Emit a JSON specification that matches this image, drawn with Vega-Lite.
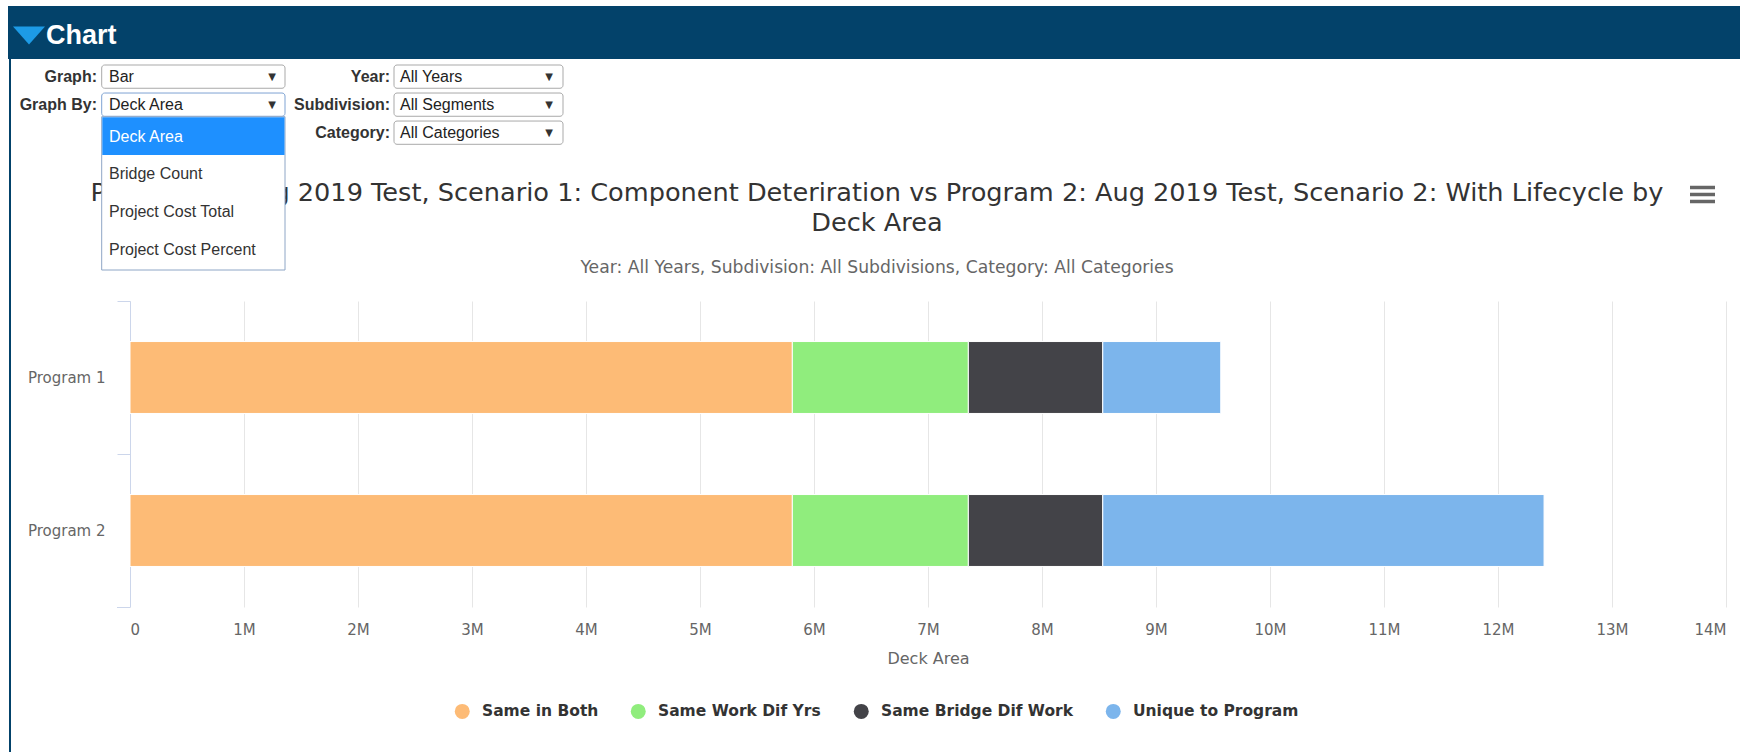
{
  "$schema": "https://vega.github.io/schema/vega-lite/v6.json",
  "background": "#ffffff",
  "padding": {"top": 6, "left": 0, "right": 0, "bottom": 0},
  "columns": 1,
  "spacing": 0,
  "bounds": "flush",
  "concat": [
    {
      "width": 1610,
      "height": 53,
      "data": {"values": [{"section": "Chart"}]},
      "layer": [
        {
          "mark": {"type": "rect", "fill": "#03426a"},
          "encoding": {
            "x": {"datum": 8, "type": "quantitative", "scale": {"domain": [0, 1740], "range": [-130, 1610], "nice": false, "zero": false}, "axis": null},
            "x2": {"datum": 1740},
            "y": {"datum": 0, "type": "quantitative", "scale": {"domain": [0, 53], "range": [0, 53], "nice": false, "zero": false}, "axis": null},
            "y2": {"datum": 53}
          }
        },
        {
          "mark": {"type": "rule", "stroke": "#03426a", "strokeWidth": 2},
          "encoding": {
            "x": {"datum": 10, "type": "quantitative", "scale": {"domain": [0, 1740], "range": [-130, 1610], "nice": false, "zero": false}, "axis": null},
            "y": {"datum": 53, "type": "quantitative", "scale": {"domain": [0, 53], "range": [0, 53], "nice": false, "zero": false}, "axis": null},
            "y2": {"datum": 746}
          }
        },
        {
          "mark": {"type": "rule", "stroke": "#ccd6eb", "strokeWidth": 1},
          "encoding": {
            "x": {"datum": 117, "type": "quantitative", "scale": {"domain": [0, 1740], "range": [-130, 1610], "nice": false, "zero": false}, "axis": null},
            "x2": {"datum": 130},
            "y": {"datum": 601.5, "type": "quantitative", "scale": {"domain": [0, 53], "range": [0, 53], "nice": false, "zero": false}, "axis": null}
          }
        },
        {
          "mark": {"type": "point", "shape": "M-1,-0.57L1,-0.57L0,0.57Z", "size": 1024, "filled": true, "color": "#1d9be6", "opacity": 1, "strokeWidth": 0},
          "encoding": {
            "x": {"datum": 29, "type": "quantitative", "scale": {"domain": [0, 1740], "range": [-130, 1610], "nice": false, "zero": false}, "axis": null},
            "y": {"datum": 29.5, "type": "quantitative", "scale": {"domain": [0, 53], "range": [0, 53], "nice": false, "zero": false}, "axis": null}
          }
        },
        {
          "mark": {"type": "text", "font": "Liberation Sans", "fontSize": 27, "fontWeight": "bold", "color": "#ffffff", "align": "left", "baseline": "alphabetic"},
          "encoding": {
            "text": {"field": "section"},
            "x": {"datum": 46, "type": "quantitative", "scale": {"domain": [0, 1740], "range": [-130, 1610], "nice": false, "zero": false}, "axis": null},
            "y": {"datum": 38, "type": "quantitative", "scale": {"domain": [0, 53], "range": [0, 53], "nice": false, "zero": false}, "axis": null}
          }
        }
      ]
    },
    {
      "width": 1610,
      "height": 242,
      "data": {
        "values": [
          {"label": "Graph:", "value": "Bar", "col": 1, "row": 1},
          {"label": "Graph By:", "value": "Deck Area", "col": 1, "row": 2},
          {"label": "Year:", "value": "All Years", "col": 2, "row": 1},
          {"label": "Subdivision:", "value": "All Segments", "col": 2, "row": 2},
          {"label": "Category:", "value": "All Categories", "col": 2, "row": 3}
        ]
      },
      "resolve": {"scale": {"x": "independent", "y": "independent"}},
      "layer": [
        {
          "transform": [{"filter": "datum.col == 1"}],
          "mark": {"type": "rect", "fill": "#ffffff", "cornerRadius": 3, "strokeWidth": 1},
          "encoding": {
            "x": {"datum": 101.7, "type": "quantitative", "scale": {"domain": [0, 1740], "range": [-130, 1610], "nice": false, "zero": false}, "axis": null},
            "x2": {"datum": 285},
            "y": {"field": "row", "type": "ordinal", "scale": {"type": "band", "domain": [1, 2, 3], "range": [6, 85.3], "paddingInner": 0.17, "paddingOuter": 0}, "axis": null},
            "stroke": {"condition": {"test": "datum.label === 'Graph By:'", "value": "#7ea3d3"}, "value": "#a9a9a9"}
          }
        },
        {
          "transform": [{"filter": "datum.col == 2"}],
          "mark": {"type": "rect", "fill": "#ffffff", "cornerRadius": 3, "strokeWidth": 1, "stroke": "#a9a9a9"},
          "encoding": {
            "x": {"datum": 394, "type": "quantitative", "scale": {"domain": [0, 1740], "range": [-130, 1610], "nice": false, "zero": false}, "axis": null},
            "x2": {"datum": 563},
            "y": {"field": "row", "type": "ordinal", "scale": {"type": "band", "domain": [1, 2, 3], "range": [6, 85.3], "paddingInner": 0.17, "paddingOuter": 0}, "axis": null}
          }
        },
        {
          "mark": {"type": "text", "font": "Liberation Sans", "fontSize": 16, "fontWeight": "bold", "color": "#333333", "align": "right", "baseline": "middle"},
          "encoding": {
            "text": {"field": "label"},
            "x": {"field": "col", "type": "quantitative", "scale": {"domain": [1, 2], "range": [-33, 260], "nice": false, "zero": false}, "axis": null},
            "y": {"field": "row", "type": "quantitative", "scale": {"domain": [1, 3], "range": [17.7, 74], "nice": false, "zero": false}, "axis": null}
          }
        },
        {
          "mark": {"type": "text", "font": "Liberation Sans", "fontSize": 16, "color": "#222222", "align": "left", "baseline": "middle"},
          "encoding": {
            "text": {"field": "value"},
            "x": {"field": "col", "type": "quantitative", "scale": {"domain": [1, 2], "range": [-21, 270], "nice": false, "zero": false}, "axis": null},
            "y": {"field": "row", "type": "quantitative", "scale": {"domain": [1, 3], "range": [17.7, 74], "nice": false, "zero": false}, "axis": null}
          }
        },
        {
          "mark": {"type": "text", "font": "DejaVu Sans", "fontSize": 10, "color": "#333333", "align": "center", "baseline": "middle"},
          "encoding": {
            "text": {"value": "▼"},
            "x": {"field": "col", "type": "quantitative", "scale": {"domain": [1, 2], "range": [142, 419], "nice": false, "zero": false}, "axis": null},
            "y": {"field": "row", "type": "quantitative", "scale": {"domain": [1, 3], "range": [17.7, 74], "nice": false, "zero": false}, "axis": null}
          }
        },
        {
          "data": {"values": [{"lines": ["Program 1: Aug 2019 Test, Scenario 1: Component Deteriration vs Program 2: Aug 2019 Test, Scenario 2: With Lifecycle by", "Deck Area"]}]},
          "mark": {"type": "text", "font": "DejaVu Sans", "fontSize": 25.6, "color": "#333333", "align": "center", "baseline": "alphabetic", "lineHeight": 30},
          "encoding": {
            "text": {"field": "lines"},
            "x": {"datum": 877, "type": "quantitative", "scale": {"domain": [0, 1740], "range": [-130, 1610], "nice": false, "zero": false}, "axis": null},
            "y": {"datum": 142, "type": "quantitative", "scale": {"domain": [0, 242], "range": [0, 242], "nice": false, "zero": false}, "axis": null}
          }
        },
        {
          "data": {"values": [{"subtitle": "Year: All Years, Subdivision: All Subdivisions, Category: All Categories"}]},
          "mark": {"type": "text", "font": "DejaVu Sans", "fontSize": 17.2, "color": "#666666", "align": "center", "baseline": "alphabetic"},
          "encoding": {
            "text": {"field": "subtitle"},
            "x": {"datum": 877, "type": "quantitative", "scale": {"domain": [0, 1740], "range": [-130, 1610], "nice": false, "zero": false}, "axis": null},
            "y": {"datum": 214, "type": "quantitative", "scale": {"domain": [0, 242], "range": [0, 242], "nice": false, "zero": false}, "axis": null}
          }
        },
        {
          "data": {"values": [{"bar": 1}, {"bar": 2}, {"bar": 3}]},
          "mark": {"type": "rule", "stroke": "#666666", "strokeWidth": 3.5},
          "encoding": {
            "x": {"datum": 1690, "type": "quantitative", "scale": {"domain": [0, 1740], "range": [-130, 1610], "nice": false, "zero": false}, "axis": null},
            "x2": {"datum": 1715},
            "y": {"field": "bar", "type": "quantitative", "scale": {"domain": [1, 3], "range": [128.5, 142.5], "nice": false, "zero": false}, "axis": null}
          }
        },
        {
          "data": {"values": [{"menu": "Graph By"}]},
          "mark": {"type": "rect", "fill": "#ffffff", "stroke": "#8ea6c6", "strokeWidth": 1},
          "encoding": {
            "x": {"datum": 101.7, "type": "quantitative", "scale": {"domain": [0, 1740], "range": [-130, 1610], "nice": false, "zero": false}, "axis": null},
            "x2": {"datum": 285},
            "y": {"datum": 57.7, "type": "quantitative", "scale": {"domain": [0, 242], "range": [0, 242], "nice": false, "zero": false}, "axis": null},
            "y2": {"datum": 211}
          }
        },
        {
          "data": {"values": [{"menu": "Graph By"}]},
          "mark": {"type": "rect", "fill": "#1e90ff"},
          "encoding": {
            "x": {"datum": 102.3, "type": "quantitative", "scale": {"domain": [0, 1740], "range": [-130, 1610], "nice": false, "zero": false}, "axis": null},
            "x2": {"datum": 284.5},
            "y": {"datum": 58.3, "type": "quantitative", "scale": {"domain": [0, 242], "range": [0, 242], "nice": false, "zero": false}, "axis": null},
            "y2": {"datum": 96}
          }
        },
        {
          "data": {
            "values": [
              {"item": "Deck Area", "pos": 1},
              {"item": "Bridge Count", "pos": 2},
              {"item": "Project Cost Total", "pos": 3},
              {"item": "Project Cost Percent", "pos": 4}
            ]
          },
          "mark": {"type": "text", "font": "Liberation Sans", "fontSize": 16, "align": "left", "baseline": "middle"},
          "encoding": {
            "text": {"field": "item"},
            "x": {"datum": 109, "type": "quantitative", "scale": {"domain": [0, 1740], "range": [-130, 1610], "nice": false, "zero": false}, "axis": null},
            "y": {"field": "pos", "type": "quantitative", "scale": {"domain": [1, 4], "range": [77.7, 191], "nice": false, "zero": false}, "axis": null},
            "color": {"condition": {"test": "datum.pos === 1", "value": "#ffffff"}, "value": "#333333"}
          }
        }
      ]
    },
    {
      "width": 1596,
      "height": 306,
      "data": {
        "values": [
          {"program": "Program 1", "status": "Same in Both", "area": 5810000},
          {"program": "Program 1", "status": "Same Work Dif Yrs", "area": 1544000},
          {"program": "Program 1", "status": "Same Bridge Dif Work", "area": 1179000},
          {"program": "Program 1", "status": "Unique to Program", "area": 1035000},
          {"program": "Program 2", "status": "Same in Both", "area": 5810000},
          {"program": "Program 2", "status": "Same Work Dif Yrs", "area": 1544000},
          {"program": "Program 2", "status": "Same Bridge Dif Work", "area": 1179000},
          {"program": "Program 2", "status": "Unique to Program", "area": 3871000}
        ]
      },
      "transform": [{"window": [{"op": "row_number", "as": "seq"}], "groupby": ["program"]}],
      "mark": {"type": "bar", "stroke": "#ffffff", "strokeWidth": 1},
      "encoding": {
        "y": {
          "field": "program",
          "type": "nominal",
          "scale": {"paddingInner": 0.53, "paddingOuter": 0.265},
          "axis": {
            "title": null,
            "labelFont": "DejaVu Sans",
            "labelFontSize": 15,
            "labelColor": "#666666",
            "labelPadding": 12,
            "tickSize": 13,
            "tickColor": "#ccd6eb",
            "bandPosition": 0,
            "tickOffset": -40.5,
            "labelOffset": 40.5,
            "domainColor": "#ccd6eb",
            "grid": false,
            "minExtent": 130
          }
        },
        "x": {
          "field": "area",
          "type": "quantitative",
          "stack": "zero",
          "scale": {"domain": [0, 14000000], "nice": false},
          "axis": {
            "title": "Deck Area",
            "format": "~s",
            "labelExpr": "datum.value == 0 ? '0' : datum.label",
            "tickCount": 14,
            "domain": false,
            "ticks": false,
            "tickSize": 0,
            "gridColor": "#e6e6e6",
            "labelFont": "DejaVu Sans",
            "labelFontSize": 15,
            "labelColor": "#666666",
            "labelPadding": 15,
            "titleFont": "DejaVu Sans",
            "titleFontSize": 16,
            "titleFontWeight": "normal",
            "titleColor": "#666666",
            "titlePadding": 13
          }
        },
        "color": {
          "field": "status",
          "type": "nominal",
          "scale": {
            "domain": ["Same in Both", "Same Work Dif Yrs", "Same Bridge Dif Work", "Unique to Program"],
            "range": ["#fdbb76", "#90ed7d", "#434348", "#7cb5ec"]
          },
          "legend": {
            "title": null,
            "orient": "none",
            "legendX": 324.5,
            "legendY": 697.3,
            "direction": "horizontal",
            "symbolType": "circle",
            "symbolSize": 225,
            "symbolStrokeWidth": 0,
            "symbolOpacity": 1,
            "labelFont": "DejaVu Sans",
            "labelFontSize": 15.5,
            "labelFontWeight": "bold",
            "labelColor": "#333333",
            "labelLimit": 0,
            "labelOffset": 12,
            "columnPadding": 32,
            "padding": 0
          }
        },
        "order": {"field": "seq", "type": "quantitative"}
      }
    }
  ],
  "config": {
    "view": {"stroke": null},
    "font": "DejaVu Sans"
  }
}
